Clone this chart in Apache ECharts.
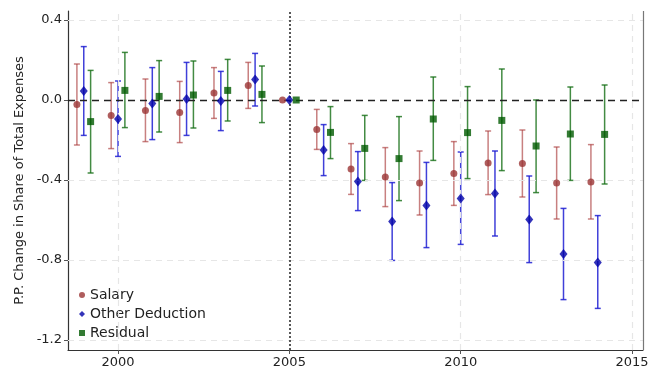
<!DOCTYPE html>
<html><head><meta charset="utf-8">
<script src="https://cdn.jsdelivr.net/npm/echarts@6/dist/echarts.min.js"></script>
<style>html,body{margin:0;padding:0;background:#fff}#c{width:652px;height:371px}</style>
</head><body><div id="c"></div>
<script>
const years = [1999,2000,2001,2002,2003,2004,2005,2006,2007,2008,2009,2010,2011,2012,2013,2014];
const salary    = [-0.022,-0.078,-0.052,-0.062,0.035,0.073,0,-0.147,-0.345,-0.385,-0.415,-0.368,-0.315,-0.317,-0.415,-0.41];
const salaryHi  = [0.18,0.087,0.105,0.093,0.162,0.188,0,-0.047,-0.218,-0.238,-0.255,-0.208,-0.155,-0.15,-0.235,-0.223];
const salaryLo  = [-0.225,-0.243,-0.208,-0.213,-0.092,-0.042,0,-0.247,-0.472,-0.533,-0.575,-0.527,-0.473,-0.485,-0.595,-0.595];
const other     = [0.045,-0.095,-0.018,0.005,-0.005,0.102,0,-0.25,-0.408,-0.607,-0.527,-0.492,-0.468,-0.598,-0.77,-0.812];
const otherHi   = [0.267,0.095,0.162,0.188,0.143,0.233,0,-0.123,-0.258,-0.413,-0.312,-0.26,-0.255,-0.38,-0.542,-0.578];
const otherLo   = [-0.177,-0.282,-0.198,-0.177,-0.153,-0.03,0,-0.378,-0.553,-0.802,-0.738,-0.722,-0.68,-0.813,-0.998,-1.042];
const resid     = [-0.108,0.048,0.018,0.025,0.048,0.028,0,-0.162,-0.242,-0.293,-0.095,-0.163,-0.102,-0.23,-0.17,-0.172];
const residHi   = [0.148,0.238,0.197,0.195,0.203,0.17,0,-0.033,-0.077,-0.083,0.115,0.067,0.155,0.0,0.065,0.075];
const residLo   = [-0.365,-0.138,-0.16,-0.14,-0.105,-0.113,0,-0.293,-0.402,-0.503,-0.302,-0.393,-0.353,-0.463,-0.402,-0.42];
const xTicks = [2000,2005,2010,2015];
const yTicks = [-1.2,-0.8,-0.4,0.0,0.4];
const offsets = {salary:-0.2, other:0, resid:0.2};

const FONT = 'DejaVu Sans';
const pts = (v,off) => years.map((y,i)=>[y+off, v[i]]);
const errs = (lo,hi,off) => years.map((y,i)=>[y+off, lo[i], hi[i]]);

function errSeries(name, lo, hi, off, color){
  return {
    type:'custom', name:name+'_err', silent:true, z:2,
    renderItem:function(params, api){
      const x = api.value(0), l = api.value(1), h = api.value(2);
      if (l === h) return null;
      const p1 = api.coord([x,l]), p2 = api.coord([x,h]);
      const cap = 3;
      const st = {stroke:color, lineWidth:1.5};
      return {type:'group', children:[
        {type:'line', shape:{x1:p1[0],y1:p1[1],x2:p2[0],y2:p2[1]}, style:st},
        {type:'line', shape:{x1:p1[0]-cap,y1:p1[1],x2:p1[0]+cap,y2:p1[1]}, style:st},
        {type:'line', shape:{x1:p2[0]-cap,y1:p2[1],x2:p2[0]+cap,y2:p2[1]}, style:st}
      ]};
    },
    encode:{x:0,y:[1,2]},
    data: errs(lo,hi,off)
  };
}

const gridLine = {color:'#e6e6e6', type:[6,5], width:1.2};
const chart = echarts.init(document.getElementById('c'));
chart.setOption({
  animation:false,
  grid:{left:68, right:9, top:11, bottom:21},
  legend:{
    orient:'vertical', left:74, top:283, itemGap:5, itemWidth:6, itemHeight:6,
    textStyle:{fontFamily:FONT, fontSize:14, color:'#222'},
    data:[
      {name:'Salary', icon:'circle', itemStyle:{color:'#9b3535'}},
      {name:'Other Deduction', icon:'diamond', itemStyle:{color:'#0000a8'}},
      {name:'Residual', icon:'rect', itemStyle:{color:'#005a00'}}
    ]
  },
  xAxis:{
    type:'value', min:1998.54, max:2015.32,
    axisLine:{show:true, onZero:false, lineStyle:{color:'#333', width:1.2}},
    axisTick:{show:true, customValues:xTicks, length:4, lineStyle:{color:'#555'}},
    axisLabel:{customValues:xTicks, fontFamily:FONT, fontSize:13, color:'#222', margin:6,
      formatter:v=>String(Math.round(v))},
    splitLine:{show:false}
  },
  yAxis:{
    type:'value', min:-1.25, max:0.445,
    name:'P.P. Change in Share of Total Expenses', nameLocation:'middle', nameGap:41,
    nameTextStyle:{fontFamily:FONT, fontSize:13, color:'#222'},
    axisLine:{show:true, lineStyle:{color:'#333', width:1.2}},
    axisTick:{show:true, customValues:yTicks, length:4, lineStyle:{color:'#555'}},
    axisLabel:{customValues:yTicks, fontFamily:FONT, fontSize:13, color:'#222', margin:6,
      formatter:v=>Number(v).toFixed(1)},
    splitLine:{show:false}
  },
  series:[
    {type:'line', name:'_grid', data:[], silent:true, z:0,
      markLine:{silent:true, symbol:'none', label:{show:false}, lineStyle:gridLine,
        data:[...xTicks.filter(t=>t!==2005).map(t=>({xAxis:t})), ...yTicks.filter(t=>t!==0).map(t=>({yAxis:t}))]}},
    {type:'line', name:'_frame', data:[], silent:true, z:0,
      markLine:{silent:true, symbol:'none', label:{show:false}, lineStyle:{color:'#777', type:'solid', width:1.2},
        data:[{xAxis:2015.32},{yAxis:0.445}]}},
    {type:'line', name:'_ref', data:[], silent:true, z:1,
      markLine:{silent:true, symbol:'none', label:{show:false},
        data:[
          {yAxis:0, lineStyle:{color:'#222', type:[7,5], width:1.3}},
          {xAxis:2005, lineStyle:{color:'#222', type:[2,2], width:1.5}}
        ]}},
    errSeries('Salary', salaryLo, salaryHi, offsets.salary, 'rgba(170,60,60,0.65)'),
    errSeries('Other Deduction', otherLo, otherHi, offsets.other, 'rgba(30,30,210,0.85)'),
    errSeries('Residual', residLo, residHi, offsets.resid, 'rgba(20,110,20,0.8)'),
    {type:'scatter', name:'Salary', symbol:'circle', symbolSize:7, z:5,
      itemStyle:{color:'#9b3535'}, data:pts(salary, offsets.salary)},
    {type:'scatter', name:'Other Deduction', symbol:'diamond', symbolSize:[8,10], z:5,
      itemStyle:{color:'#0000a8'}, data:pts(other, offsets.other)},
    {type:'scatter', name:'Residual', symbol:'rect', symbolSize:7, z:5,
      itemStyle:{color:'#005a00'}, data:pts(resid, offsets.resid)}
  ]
});
</script></body></html>
